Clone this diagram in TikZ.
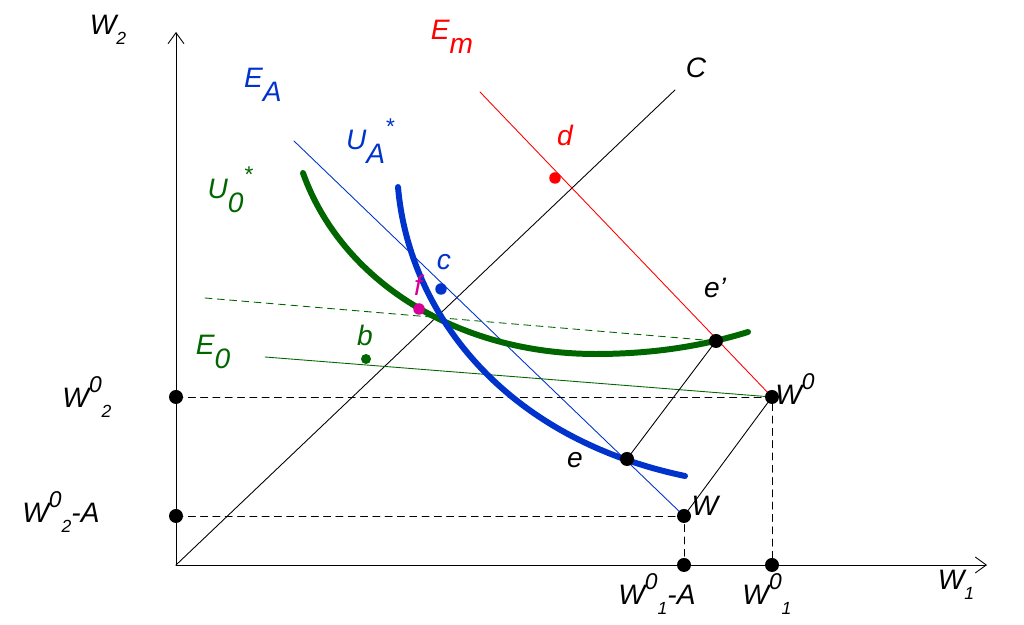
\documentclass[tikz,border=0pt]{standalone}
\usepackage{fontspec}
\setmainfont{Liberation Sans}
\usetikzlibrary{arrows.meta}
\definecolor{ugreen}{RGB}{0,102,0}
\definecolor{ublue}{RGB}{0,51,204}
\definecolor{ured}{RGB}{255,0,0}
\definecolor{umag}{RGB}{214,0,150}
\newcommand{\lo}[1]{\raisebox{-0.5em}{#1}}
\newcommand{\hi}[1]{\raisebox{0.55em}{\fontsize{13}{13}\selectfont #1}}
\newcommand{\smsub}[1]{\raisebox{-0.35em}{\fontsize{10}{10}\selectfont #1}}
\tikzset{
  lbl/.style={font=\fontsize{16}{19}\selectfont\itshape, inner sep=0pt},
  dot/.style={circle, fill=black, inner sep=0pt, minimum size=0.28cm},
  cdot/.style={circle, fill=#1, inner sep=0pt, minimum size=0.23cm},
  thin line/.style={line width=0.5pt},
  curve/.style={line width=3.4pt}
}
\begin{document}
\begin{tikzpicture}[line cap=round,line join=round,>={Straight Barb[length=2.2mm,width=3.2mm]},x=1.0cm,y=1.0cm]
\useasboundingbox (-3.52,-1.2) rectangle (16.96,11.3);
% points
\coordinate (O) at (0,0);
\coordinate (ytop) at (0,10.66);
\coordinate (xend) at (16.22,0);
\coordinate (Cend) at (9.98,9.5);
\coordinate (Emend) at (6.08,9.46);
\coordinate (EAend) at (2.36,8.48);
\coordinate (E0end) at (1.78,4.16);
\coordinate (dashend) at (0.58,5.34);
% axes
\draw [->, thin line] (O) -- (ytop);
\draw [->, thin line] (O) -- (xend);
% budget lines
\draw [thin line] (O) -- (Cend);
\draw [ured, thin line] (Emend) -- (11.92,3.36) coordinate (W0);
\draw [ublue, thin line] (EAend) -- (10.16,0.98) coordinate (W);
\draw [ugreen, thin line] (E0end) -- (W0);
\draw [ugreen, thin line, dashed, dash pattern=on 4pt off 3pt] (dashend) -- (10.8,4.48) coordinate (ep);
\coordinate (e) at (9.02,2.12);
\draw [thin line] (ep) -- (e);
\draw [thin line] (W0) -- (W);
% projections
\coordinate (W02) at (0,3.36);
\coordinate (W02A) at (0,0.98);
\coordinate (W01) at (11.92,0);
\coordinate (W01A) at (10.16,0);
\draw [thin line, dashed, dash pattern=on 4pt off 3pt] (W02) -- (W0) -- (W01);
\draw [thin line, dashed, dash pattern=on 4pt off 3pt] (W02A) -- (W) -- (W01A);
% indifference curves
\draw [ugreen, curve] (2.54,7.84) .. controls (3.3,5.7) and (5.6,4.22) .. (8.4,4.22) .. controls (9.6,4.22) and (10.6,4.4) .. (11.44,4.66);
\draw [ublue, curve] (4.44,7.56) .. controls (4.65,5.1) and (6.5,2.55) .. (10.18,1.78);
% dots
\node [dot] (nW0) at (W0) {};
\node [dot] (nW) at (W) {};
\node [dot] (nep) at (ep) {};
\node [dot] (ne) at (e) {};
\node [dot] (nW02) at (W02) {};
\node [dot] (nW02A) at (W02A) {};
\node [dot] (nW01) at (W01) {};
\node [dot] (nW01A) at (W01A) {};
\node [cdot=ured] (nd) at (7.58,7.74) {};
\node [cdot=ublue] (nc) at (5.3,5.52) {};
\node [cdot=umag] (nf) at (4.86,5.12) {};
\node [cdot=ugreen, minimum size=0.2cm] (nb) at (3.8,4.12) {};
% labels
\node [lbl] (tW2) at (-1.36,10.7) {W\smsub{2}};
\node [lbl] (tW1) at (15.6,-0.4) {W\smsub{1}};
\node [lbl, ublue] (tEA) at (1.74,9.6) {E\lo{A}};
\node [lbl, ublue] (tUA) at (3.88,8.48) {U\lo{A}\hi{*}};
\node [lbl, ugreen] (tU0) at (1.08,7.5) {U\lo{0}\hi{*}};
\node [lbl, ured] (tEm) at (5.52,10.56) {E\lo{m}};
\node [lbl] (tC) at (10.4,9.94) {C};
\node [lbl, ured] (td) at (7.78,8.6) {d};
\node [lbl, ublue] (tc) at (5.36,6.06) {c};
\node [lbl, umag] (tf) at (4.84,5.6) {f};
\node [lbl, ugreen] (tb) at (3.78,4.6) {b};
\node [lbl, ugreen] (tE0) at (0.74,4.26) {E\lo{0}};
\node [lbl] (tep) at (10.78,5.54) {e’};
\node [lbl] (te) at (7.98,2.1) {e};
\node [lbl] (tW0) at (12.38,3.52) {W\hi{0}};
\node [lbl] (tW) at (10.58,1.18) {W};
\node [lbl] (tW02) at (-1.78,3.36) {W\hi{0}\smsub{2}};
\node [lbl] (tW02A) at (-2.3,1.06) {W\hi{0}\smsub{2}-A};
\node [lbl] (tW01A) at (9.62,-0.58) {W\hi{0}\smsub{1}-A};
\node [lbl] (tW01) at (11.82,-0.58) {W\hi{0}\smsub{1}};
\end{tikzpicture}
\end{document}
